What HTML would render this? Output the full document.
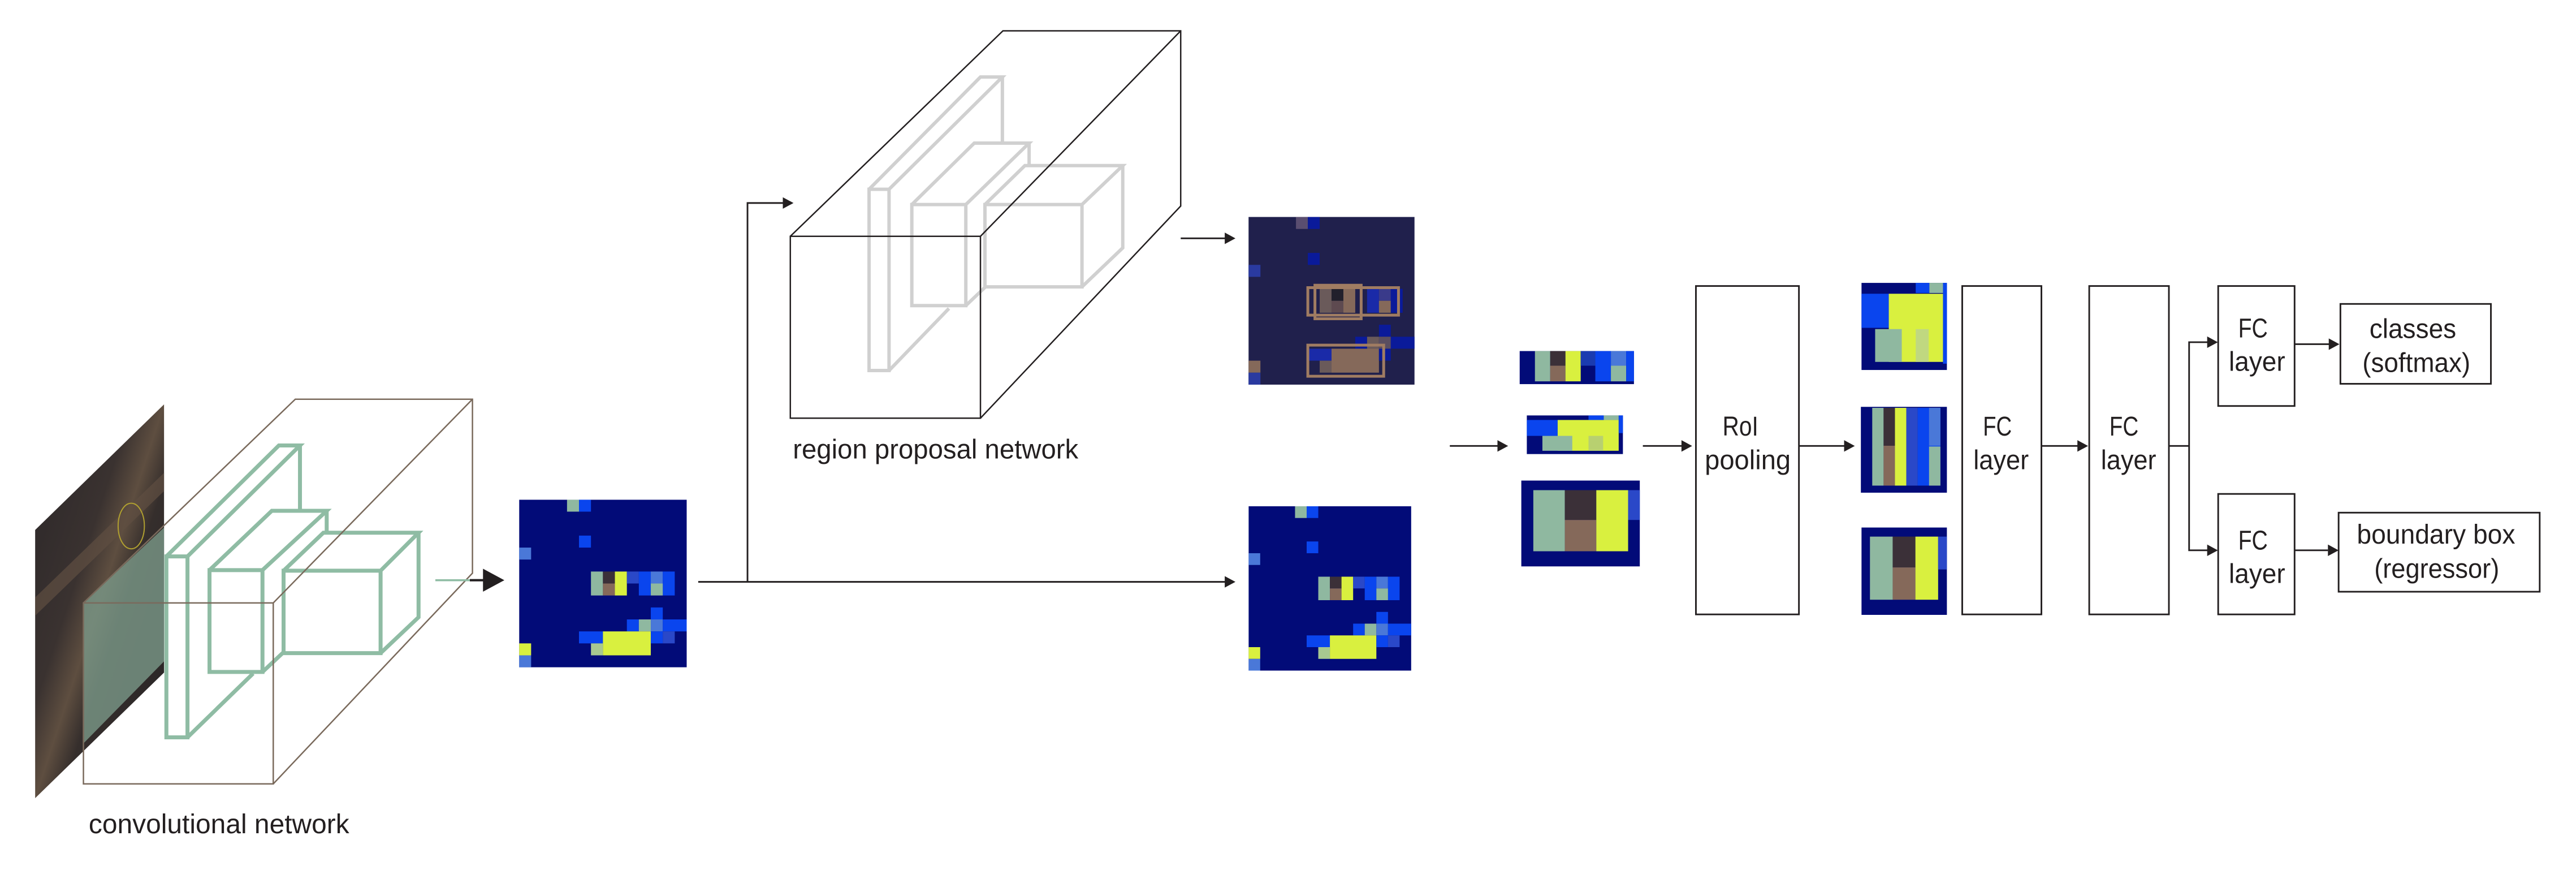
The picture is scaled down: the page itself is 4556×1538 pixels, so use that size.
<!DOCTYPE html>
<html><head><meta charset="utf-8"><style>
html,body{margin:0;padding:0;background:#fff;width:4556px;height:1538px;overflow:hidden}
svg{display:block}
text{font-family:"Liberation Sans",sans-serif;fill:#231f20;font-size:16.5px}
</style></head><body>
<svg width="4556" height="1538" viewBox="0 0 1568 529.3" xmlns="http://www.w3.org/2000/svg">
<defs>
<linearGradient id="ph" x1="0" y1="0" x2="1" y2="1">
<stop offset="0" stop-color="#2a2628"/><stop offset="0.38" stop-color="#3a3230"/><stop offset="0.5" stop-color="#5e4e40"/><stop offset="0.6" stop-color="#352e2c"/><stop offset="1" stop-color="#252224"/>
</linearGradient>
<symbol id="fm" viewBox="0 0 14 14" preserveAspectRatio="none">
<rect width="14" height="14" fill="#020b78"/>
<rect x="4" y="0" width="1" height="1" fill="#8fb8a0"/><rect x="5" y="0" width="1" height="1" fill="#0a45ee"/>
<rect x="5" y="3" width="1" height="1" fill="#0a45ee"/>
<rect x="0" y="4" width="1" height="1" fill="#4a78d8"/>
<rect x="6" y="6" width="1" height="2" fill="#8fb8a0"/><rect x="7" y="6" width="1" height="1" fill="#3b3038"/><rect x="7" y="7" width="1" height="1" fill="#85695a"/><rect x="8" y="6" width="1" height="2" fill="#d9f03f"/>
<rect x="9" y="6" width="1" height="1" fill="#2a48c8"/><rect x="10" y="6" width="1" height="2" fill="#0a45ee"/><rect x="11" y="6" width="1" height="1" fill="#4a78d8"/><rect x="12" y="6" width="1" height="2" fill="#0a45ee"/><rect x="11" y="7" width="1" height="1" fill="#8fb8a0"/>
<rect x="11" y="9" width="1" height="1" fill="#0a45ee"/>
<rect x="9" y="10" width="1" height="1" fill="#0a45ee"/><rect x="10" y="10" width="1" height="1" fill="#8fb8a0"/><rect x="11" y="10" width="1" height="1" fill="#4a78d8"/><rect x="12" y="10" width="2" height="1" fill="#0a45ee"/>
<rect x="5" y="11" width="2" height="1" fill="#0a45ee"/><rect x="7" y="11" width="4" height="2" fill="#d9f03f"/><rect x="11" y="11" width="1" height="1" fill="#0a45ee"/><rect x="12" y="11" width="1" height="1" fill="#2a48c8"/>
<rect x="6" y="12" width="1" height="1" fill="#a8c890"/><rect x="0" y="12" width="1" height="1" fill="#d9f03f"/><rect x="0" y="13" width="1" height="1" fill="#4a78d8"/>
</symbol>
</defs>

<!-- Convolutional network (zoom1 coords) -->
<g transform="translate(0,234) scale(0.2853,0.185)">
<polygon points="75,478 350,65 350,947 75,1360" fill="url(#ph)"/>
<polygon points="75,700 350,290 350,350 75,760" fill="#5f4f42" opacity="0.7"/>
<polygon points="178,718 350,470 350,910 178,1180" fill="#7a9888" opacity="0.8"/>
<ellipse cx="280" cy="465" rx="28" ry="75" fill="none" stroke="#b0a030" stroke-width="2" vector-effect="non-scaling-stroke"/>
<g fill="#fff" stroke="none">
<polygon points="355,565 595,200 640,200 640,410 400,1160 355,1160"/>
<polygon points="447,610 580,415 697,415 697,487 560,945 447,945"/>
<polygon points="605,612 690,487 893,487 893,765 812,883 605,883"/>
</g>
<g fill="none" stroke="#8fbca4" stroke-width="7" stroke-linejoin="miter">
<polyline points="355,565 595,200 640,200 400,565 355,565 355,1160 400,1160 400,565" vector-effect="non-scaling-stroke"/>
<line x1="640" y1="200" x2="640" y2="410" vector-effect="non-scaling-stroke"/>
<line x1="400" y1="1160" x2="540" y2="950" vector-effect="non-scaling-stroke"/>
<polyline points="447,610 580,415 697,415 560,610 447,610 447,945 560,945 560,610" vector-effect="non-scaling-stroke"/>
<line x1="697" y1="415" x2="697" y2="487" vector-effect="non-scaling-stroke"/>
<line x1="560" y1="945" x2="605" y2="880" vector-effect="non-scaling-stroke"/>
<polyline points="605,612 690,487 893,487 812,612 605,612 605,883 812,883 812,612" vector-effect="non-scaling-stroke"/>
<polyline points="893,487 893,765 812,883" vector-effect="non-scaling-stroke"/>
</g>
<g fill="none" stroke="#7a6a5c" stroke-width="2.5">
<rect x="178" y="718" width="405" height="595" vector-effect="non-scaling-stroke"/>
<polyline points="178,718 630,48 1008,48 1008,620 583,1313" vector-effect="non-scaling-stroke"/>
<line x1="583" y1="718" x2="1008" y2="48" vector-effect="non-scaling-stroke"/>
</g>
</g>
<text x="54" y="507" textLength="158.6" lengthAdjust="spacingAndGlyphs">convolutional network</text>

<!-- arrow conv -> map1 -->
<line x1="265" y1="353" x2="286" y2="353" stroke="#8fbca4" stroke-width="1.2"/>
<line x1="286" y1="353" x2="295" y2="353" stroke="#231f20" stroke-width="1.4"/>
<polygon points="294,346 307,353 294,360" fill="#231f20"/>

<use href="#fm" x="316" y="304" width="102" height="102"/>

<g stroke="#231f20" stroke-width="1" fill="none">
<line x1="425" y1="354" x2="746" y2="354"/>
<polyline points="455,354 455,123.5 477,123.5"/>
<line x1="718.7" y1="145" x2="746" y2="145"/>
<line x1="882.5" y1="271.3" x2="912" y2="271.3"/>
<line x1="1000" y1="271.3" x2="1024" y2="271.3"/>
<line x1="1095" y1="271.3" x2="1123" y2="271.3"/>
<line x1="1242.6" y1="271.3" x2="1265" y2="271.3"/>
<polyline points="1316,271.3 1332.5,271.3"/>
<polyline points="1344,208.2 1332.5,208.2 1332.5,334.8 1344,334.8"/>
<line x1="1396.7" y1="209.4" x2="1418" y2="209.4"/>
<line x1="1396.7" y1="334.8" x2="1417" y2="334.8"/>
</g>
<g fill="#231f20">
<polygon points="745.5,350.5 752,354 745.5,357.5"/>
<polygon points="476.5,120 483,123.5 476.5,127"/>
<polygon points="745.5,141.5 752,145 745.5,148.5"/>
<polygon points="911.5,267.8 918,271.3 911.5,274.8"/>
<polygon points="1023.5,267.8 1030,271.3 1023.5,274.8"/>
<polygon points="1122.5,267.8 1129,271.3 1122.5,274.8"/>
<polygon points="1264.5,267.8 1271,271.3 1264.5,274.8"/>
<polygon points="1343.5,204.7 1350,208.2 1343.5,211.7"/>
<polygon points="1343.5,331.3 1350,334.8 1343.5,338.3"/>
<polygon points="1417.5,205.9 1424,209.4 1417.5,212.9"/>
<polygon points="1417,331.3 1423.5,334.8 1417,338.3"/>
</g>

<!-- RPN (zoom4 coords) -->
<g transform="translate(474.9,10.32) scale(0.1712,0.1756)">
<g fill="#fff" stroke="none">
<polygon points="316,597 712,208 790,208 790,437 387,1225 316,1225"/>
<polygon points="468,650 690,437 885,437 885,515 660,1000 468,1000"/>
<polygon points="728,650 870,515 1218,515 1218,800 1073,935 728,935"/>
</g>
<g fill="none" stroke="#d0d0d0" stroke-width="6">
<polyline points="316,597 712,208 790,208 387,597 316,597 316,1225 387,1225 387,597" vector-effect="non-scaling-stroke"/>
<line x1="790" y1="208" x2="790" y2="437" vector-effect="non-scaling-stroke"/>
<line x1="387" y1="1225" x2="600" y2="1010" vector-effect="non-scaling-stroke"/>
<polyline points="468,650 690,437 885,437 660,650 468,650 468,1000 660,1000 660,650" vector-effect="non-scaling-stroke"/>
<line x1="885" y1="437" x2="885" y2="515" vector-effect="non-scaling-stroke"/>
<line x1="660" y1="1000" x2="730" y2="935" vector-effect="non-scaling-stroke"/>
<polyline points="728,650 870,515 1218,515 1073,650 728,650 728,935 1073,935 1073,650" vector-effect="non-scaling-stroke"/>
<polyline points="1218,515 1218,800 1073,935" vector-effect="non-scaling-stroke"/>
</g>
<g fill="none" stroke="#231f20" stroke-width="2.5">
<rect x="36" y="760" width="676" height="630" vector-effect="non-scaling-stroke"/>
<polyline points="36,760 792,48 1424,48 1424,655 712,1390" vector-effect="non-scaling-stroke"/>
<line x1="712" y1="760" x2="1424" y2="48" vector-effect="non-scaling-stroke"/>
</g>
</g>
<text x="482.6" y="279" textLength="173.8" lengthAdjust="spacingAndGlyphs">region proposal network</text>

<!-- map 2 (proposals) -->
<g transform="translate(760,132) scale(7.214,7.286)">
<rect width="14" height="14" fill="#20204c"/>
<rect x="4" y="0" width="1" height="1" fill="#5a4e70"/><rect x="5" y="0" width="1" height="1" fill="#0a1a9a"/>
<rect x="5" y="3" width="1" height="1" fill="#0a1a9a"/>
<rect x="0" y="4" width="1" height="1" fill="#2a3aa0"/>
<rect x="6" y="6" width="1" height="2" fill="#6a5a5a"/><rect x="7" y="6" width="1" height="1" fill="#22202c"/><rect x="7" y="7" width="1" height="1" fill="#5e4a50"/><rect x="8" y="6" width="1" height="2" fill="#85695a"/>
<rect x="10" y="6" width="1" height="2" fill="#1a2aa8"/><rect x="11" y="6" width="1" height="1" fill="#3a3a8a"/><rect x="11" y="7" width="1" height="1" fill="#85695a"/><rect x="12" y="6" width="1" height="2" fill="#0a1a9a"/>
<rect x="11" y="9" width="1" height="1" fill="#0a1a9a"/>
<rect x="9" y="10" width="1" height="1" fill="#0a1a9a"/><rect x="10" y="10" width="1" height="1" fill="#6a5a5a"/><rect x="11" y="10" width="1" height="1" fill="#5a4e60"/><rect x="12" y="10" width="2" height="1" fill="#0a1a9a"/>
<rect x="5" y="11" width="2" height="1" fill="#1a2aa8"/><rect x="7" y="11" width="4" height="2" fill="#85695a"/><rect x="6" y="12" width="1" height="1" fill="#6a5a5a"/><rect x="11" y="11" width="1" height="1" fill="#0a1a9a"/>
<rect x="0" y="12" width="1" height="1" fill="#85695a"/><rect x="0" y="13" width="1" height="1" fill="#2a3aa0"/>
<g fill="none" stroke="#a07c62" stroke-width="5">
<rect x="5" y="5.9" width="7.65" height="2.3" vector-effect="non-scaling-stroke"/>
<rect x="5.6" y="5.7" width="3.9" height="2.8" vector-effect="non-scaling-stroke"/>
<rect x="5" y="10.7" width="6.4" height="2.6" vector-effect="non-scaling-stroke"/>
</g>
</g>

<use href="#fm" x="760" y="308" width="99" height="100"/>

<g transform="translate(877.6,154.9) scale(0.1976,0.1536)">
<rect x="240" y="382" width="352" height="131" fill="#020b78"/>
<rect x="287" y="382" width="47" height="120" fill="#8fb8a0"/><rect x="334" y="382" width="47" height="58" fill="#3b3038"/><rect x="334" y="440" width="47" height="62" fill="#85695a"/><rect x="381" y="382" width="47" height="120" fill="#d9f03f"/>
<rect x="428" y="382" width="45" height="58" fill="#1a3bb0"/><rect x="473" y="382" width="48" height="120" fill="#0a45ee"/><rect x="521" y="382" width="47" height="58" fill="#4a78d8"/><rect x="521" y="440" width="47" height="62" fill="#8fb8a0"/><rect x="568" y="382" width="24" height="120" fill="#0a45ee"/>

<rect x="262" y="637" width="296" height="153" fill="#020b78"/>
<rect x="262" y="655" width="95" height="63" fill="#0a45ee"/><rect x="357" y="655" width="188" height="122" fill="#d9f03f"/><rect x="310" y="718" width="92" height="59" fill="#8fb8a0"/><rect x="452" y="718" width="45" height="59" fill="#b8d070"/>
<rect x="452" y="637" width="47" height="18" fill="#0a45ee"/><rect x="499" y="637" width="46" height="18" fill="#8fb8a0"/><rect x="545" y="637" width="13" height="70" fill="#0a45ee"/>

<rect x="245" y="895" width="365" height="340" fill="#020b78"/>
<rect x="282" y="933" width="97" height="242" fill="#8fb8a0"/><rect x="379" y="933" width="97" height="118" fill="#3b3038"/><rect x="379" y="1051" width="97" height="124" fill="#85695a"/><rect x="476" y="933" width="98" height="242" fill="#d9f03f"/><rect x="574" y="933" width="36" height="118" fill="#2a48c8"/>

<rect x="1293" y="112" width="263" height="345" fill="#020b78"/>
<rect x="1293" y="155" width="84" height="135" fill="#0a45ee"/><rect x="1377" y="155" width="167" height="270" fill="#d9f03f"/><rect x="1335" y="295" width="82" height="130" fill="#8fb8a0"/><rect x="1460" y="295" width="40" height="130" fill="#c0d880"/>
<rect x="1460" y="112" width="42" height="40" fill="#0a45ee"/><rect x="1502" y="112" width="42" height="40" fill="#8fb8a0"/><rect x="1544" y="112" width="12" height="320" fill="#0a45ee"/>

<rect x="1291" y="603" width="265" height="340" fill="#020b78"/>
<rect x="1326" y="607" width="35" height="308" fill="#8fb8a0"/><rect x="1361" y="607" width="35" height="150" fill="#3b3038"/><rect x="1361" y="757" width="35" height="158" fill="#85695a"/><rect x="1396" y="607" width="35" height="308" fill="#d9f03f"/>
<rect x="1431" y="607" width="35" height="308" fill="#2a48c8"/><rect x="1466" y="607" width="70" height="308" fill="#0a45ee"/><rect x="1501" y="607" width="35" height="150" fill="#4a78d8"/><rect x="1501" y="760" width="35" height="155" fill="#8fb8a0"/>

<rect x="1293" y="1081" width="263" height="346" fill="#020b78"/>
<rect x="1319" y="1117" width="70" height="250" fill="#8fb8a0"/><rect x="1389" y="1117" width="70" height="122" fill="#3b3038"/><rect x="1389" y="1239" width="70" height="128" fill="#85695a"/><rect x="1459" y="1117" width="70" height="250" fill="#d9f03f"/><rect x="1529" y="1117" width="27" height="130" fill="#2a48c8"/>
</g>

<g fill="#fff" stroke="#231f20" stroke-width="1">
<rect x="1032.3" y="174" width="62.7" height="199.8"/>
<rect x="1194.4" y="174" width="48.2" height="199.8"/>
<rect x="1271.7" y="174" width="48.5" height="199.8"/>
<rect x="1350.2" y="174" width="46.5" height="73"/>
<rect x="1350.2" y="300.5" width="46.5" height="73.3"/>
<rect x="1424.6" y="184.9" width="91.6" height="48.6"/>
<rect x="1423.5" y="311.9" width="122.4" height="48.1"/>
</g>
<text x="1048.5" y="265" textLength="21.8" lengthAdjust="spacingAndGlyphs">RoI</text>
<text x="1037.7" y="285.5" textLength="52.3" lengthAdjust="spacingAndGlyphs">pooling</text>
<text x="1207" y="265" textLength="17.6" lengthAdjust="spacingAndGlyphs">FC</text>
<text x="1201.2" y="285.5" textLength="33.7" lengthAdjust="spacingAndGlyphs">layer</text>
<text x="1284" y="265" textLength="17.7" lengthAdjust="spacingAndGlyphs">FC</text>
<text x="1278.8" y="285.5" textLength="33.7" lengthAdjust="spacingAndGlyphs">layer</text>
<text x="1362.4" y="205.3" textLength="18" lengthAdjust="spacingAndGlyphs">FC</text>
<text x="1356.7" y="225.6" textLength="34.3" lengthAdjust="spacingAndGlyphs">layer</text>
<text x="1362.4" y="334.3" textLength="18" lengthAdjust="spacingAndGlyphs">FC</text>
<text x="1356.7" y="354.6" textLength="34.3" lengthAdjust="spacingAndGlyphs">layer</text>
<text x="1442.3" y="205.6" textLength="52.8" lengthAdjust="spacingAndGlyphs">classes</text>
<text x="1438" y="226.3" textLength="65.7" lengthAdjust="spacingAndGlyphs">(softmax)</text>
<text x="1434.6" y="330.8" textLength="96.4" lengthAdjust="spacingAndGlyphs">boundary box</text>
<text x="1445.2" y="351.5" textLength="76.1" lengthAdjust="spacingAndGlyphs">(regressor)</text>
</svg>
</body></html>
